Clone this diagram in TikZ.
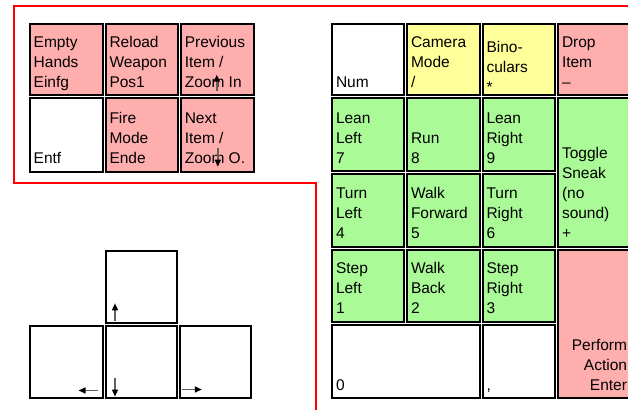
\documentclass[tikz,border=0pt]{standalone}
\usepackage{fontspec}
\setmainfont{Liberation Sans}
\usetikzlibrary{calc,arrows.meta}
\definecolor{kpink}{HTML}{FFAEAE}
\definecolor{kgreen}{HTML}{AAFA98}
\definecolor{kyellow}{HTML}{FFFF99}
\definecolor{arrgray}{HTML}{606060}
\newcommand{\keylines}[1]{\parbox[b]{90pt}{\fontsize{15.5}{20}\selectfont #1}}
\newcommand{\keylinesr}[1]{\parbox[b]{90pt}{\raggedleft\fontsize{15.5}{20}\selectfont #1}}
% name, x0, y0, x1, y1, fill
\newcommand{\kbbox}[6]{%
  \node[keybox, fill=#6, minimum width={(#4-#2-3)*1pt}, minimum height={(#5-#3-3)*1pt}] (#1) at ({(#2+#4)/2},{(#3+#5)/2}) {};}
\newcommand{\kbkey}[7]{%
  \kbbox{#1}{#2}{#3}{#4}{#5}{#6}
  \node[keytext] (#1t) at ($(#1.south west)+(4,-8)$) {\keylines{#7}};}
\tikzset{
  keybox/.style={rectangle, draw=black, line width=2pt, inner sep=0pt, outer sep=0pt},
  keytext/.style={anchor=base west, inner sep=0pt, outer sep=0pt},
  keytextr/.style={anchor=base east, inner sep=0pt, outer sep=0pt},
  smallarrow/.style={draw=arrgray, line width=1.5pt, -{Triangle[length=7pt,width=6pt,black]}},
  redline/.style={draw=red, line width=2pt}
}
\begin{document}
\begin{tikzpicture}[x=1pt,y=-1pt]
\useasboundingbox (0,0) rectangle (628,409);
% red separator
\draw[redline] (630,6.5) -- (14,6.5) -- (14,182.5) -- (315.7,182.5) -- (315.7,411);
% top-left block
\kbkey{ins}{28.2}{22.2}{104}{96.7}{kpink}{Empty\\Hands\\Einfg}
\kbkey{home}{104}{22.2}{179.3}{96.7}{kpink}{Reload\\Weapon\\Pos1}
\kbkey{pgup}{179.3}{22.2}{255.5}{96.7}{kpink}{Previous\\Item /\\Zoom In}
\kbkey{del}{28.2}{96.7}{104}{173.2}{white}{Entf}
\kbkey{end}{104}{96.7}{179.3}{173.2}{kpink}{Fire\\Mode\\Ende}
\kbkey{pgdn}{179.3}{96.7}{255.5}{173.2}{kpink}{Next\\Item /\\Zoom O.}
\draw[smallarrow] ($(pgup.south west)+(36,-4.5)$) -- ($(pgup.south west)+(36,-20.5)$);
\draw[smallarrow] ($(pgdn.south west)+(37,-24)$) -- ($(pgdn.south west)+(37,-5)$);
% numpad
\kbkey{num}{330.5}{22.2}{405.5}{96.7}{white}{Num}
\kbkey{div}{405.5}{22.2}{481}{96.7}{kyellow}{Camera\\Mode\\/}
\kbbox{mul}{481}{22.2}{556.5}{96.7}{kyellow}
\node[keytext] (mult) at ($(mul.south west)+(4,-2.5)$) {\keylines{Bino-\\culars\\{*}}};
\kbkey{minus}{556.5}{22.2}{633}{96.7}{kpink}{Drop\\Item\\–}
\kbkey{n7}{330.5}{96.7}{405.5}{172.5}{kgreen}{Lean\\Left\\7}
\kbkey{n8}{405.5}{96.7}{481}{172.5}{kgreen}{Run\\8}
\kbkey{n9}{481}{96.7}{556.5}{172.5}{kgreen}{Lean\\Right\\9}
\kbkey{plus}{556.5}{96.7}{633}{248.3}{kgreen}{Toggle\\Sneak\\(no\\sound)\\+}
\kbkey{n4}{330.5}{172.5}{405.5}{248.3}{kgreen}{Turn\\Left\\4}
\kbkey{n5}{405.5}{172.5}{481}{248.3}{kgreen}{Walk\\Forward\\5}
\kbkey{n6}{481}{172.5}{556.5}{248.3}{kgreen}{Turn\\Right\\6}
\kbkey{n1}{330.5}{248.3}{405.5}{323.3}{kgreen}{Step\\Left\\1}
\kbkey{n2}{405.5}{248.3}{481}{323.3}{kgreen}{Walk\\Back\\2}
\kbkey{n3}{481}{248.3}{556.5}{323.3}{kgreen}{Step\\Right\\3}
\kbbox{enter}{556.5}{248.3}{633}{399.8}{kpink}
\node[keytextr] (entert) at ($(enter.south east)+(-4.5,-8)$) {\keylinesr{Perform\\Action\\Enter}};
\kbkey{n0}{330.5}{323.3}{481}{399.8}{white}{0}
\kbkey{dec}{481}{323.3}{556.5}{399.8}{white}{,}
% arrow keys
\kbbox{up}{104}{249.5}{178.3}{324.8}{white}
\kbbox{left}{28.8}{324.8}{104}{399.5}{white}
\kbbox{down}{104}{324.8}{178.3}{399.5}{white}
\kbbox{right}{178.3}{324.8}{252.2}{399.5}{white}
\draw[smallarrow] ($(up.south west)+(9.5,-2)$) -- ($(up.south west)+(9.5,-20)$);
\draw[smallarrow] ($(down.south west)+(9.5,-20)$) -- ($(down.south west)+(9.5,-1.5)$);
\draw[smallarrow] ($(left.south east)+(-5,-7.5)$) -- ($(left.south east)+(-24,-7.5)$);
\draw[smallarrow] ($(right.south west)+(2,-8.5)$) -- ($(right.south west)+(22,-8.5)$);
\end{tikzpicture}
\end{document}
